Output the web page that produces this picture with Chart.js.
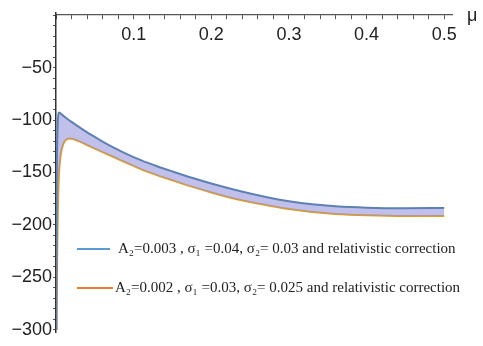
<!DOCTYPE html>
<html>
<head>
<meta charset="utf-8">
<script src="https://cdn.jsdelivr.net/npm/chart.js@4.4.0/dist/chart.umd.min.js"></script>
<style>
  html, body { margin: 0; padding: 0; background: #fff; overflow: hidden; }
  #grafico { display: block; }
</style>
</head>
<body>
<canvas id="grafico" width="483" height="346"></canvas>
<script>
// Blue curve: A2=0.003, s1=0.04, s2=0.03
const muBlue = [0.0004, 0.001, 0.002, 0.003, 0.0035, 0.01, 0.02, 0.03, 0.045, 0.06, 0.075, 0.09, 0.11, 0.13, 0.15, 0.175, 0.2, 0.225, 0.25, 0.275, 0.3, 0.33, 0.36, 0.4, 0.45, 0.5];
const valBlue = [-300, -160, -110, -95, -92.8, -96.3, -101.8, -106.8, -114, -120.5, -126.5, -132, -138.5, -144, -149, -155, -160.5, -165.5, -170, -174, -177.3, -180.3, -182.2, -183.5, -184, -183.8];

// Orange curve: A2=0.002, s1=0.03, s2=0.025
const muOrange = [0.0008, 0.0015, 0.003, 0.005, 0.008, 0.012, 0.017, 0.022, 0.03, 0.045, 0.06, 0.075, 0.09, 0.11, 0.13, 0.15, 0.175, 0.2, 0.225, 0.25, 0.275, 0.3, 0.33, 0.36, 0.4, 0.45, 0.5];
const valOrange = [-300, -230, -168, -140, -126, -119.5, -117.5, -118, -120.4, -125.5, -130.5, -135.5, -140.5, -147, -152.5, -157.5, -163.5, -169, -174, -178.2, -181.7, -184.8, -187.6, -189.5, -190.8, -191.5, -191.5];

const labelBlue = 'A₂=0.003 , σ₁ =0.04, σ₂= 0.03 and relativistic correction';
const labelOrange = 'A₂=0.002 , σ₁ =0.03, σ₂= 0.025 and relativistic correction';

// tick labels
const xLabels = [0.1, 0.2, 0.3, 0.4, 0.5];
const yLabels = [-50, -100, -150, -200, -250, -300];

const toPoints = (xs, ys) => xs.map((x, i) => ({ x: x, y: ys[i] }));

const axisColor = '#555';
const tickFont = { family: '"Liberation Sans", Arial, sans-serif', size: 18 };

// legend drawn inside the plot + the mu label
const legendPlugin = {
  id: 'legendInside',
  afterDraw(chart) {
    const ctx = chart.ctx;
    const area = chart.chartArea;
    const y0 = chart.scales.y.getPixelForValue(0);
    ctx.save();
    ctx.fillStyle = '#222';
    ctx.font = '18px "Liberation Sans", Arial, sans-serif';
    ctx.textBaseline = 'middle';
    ctx.fillText('μ', area.right + 15, y0 + 1);

    const items = [
      { text: labelBlue, color: '#5b9bd5', dy: 236, x0: 21, x1: 54, tx: 62 },
      { text: labelOrange, color: '#ed7d31', dy: 275, x0: 21, x1: 57, tx: 59 }
    ];
    ctx.font = '15px "Liberation Serif", "Times New Roman", serif';
    items.forEach(it => {
      const y = area.top + it.dy;
      ctx.strokeStyle = it.color;
      ctx.lineWidth = 2;
      ctx.beginPath();
      ctx.moveTo(area.left + it.x0, y);
      ctx.lineTo(area.left + it.x1, y);
      ctx.stroke();
      ctx.fillStyle = '#222';
      ctx.fillText(it.text, area.left + it.tx, y);
    });
    ctx.restore();
  }
};

const config = {
  type: 'line',
  data: {
    datasets: [{
      label: labelBlue,
      data: toPoints(muBlue, valBlue),
      borderColor: '#5e81b5',
      backgroundColor: 'rgba(150, 150, 220, 0.6)',
      borderWidth: 2,
      fill: '+1',
      cubicInterpolationMode: 'monotone'
    }, {
      label: labelOrange,
      data: toPoints(muOrange, valOrange),
      borderColor: '#e19c24',
      backgroundColor: 'rgba(0,0,0,0)',
      borderWidth: 2,
      fill: false,
      cubicInterpolationMode: 'monotone'
    }]
  },
  options: {
    responsive: false,
    animation: false,
    layout: { padding: { top: 13, right: 31, bottom: 14, left: 0 } },
    elements: { point: { radius: 0 } },
    plugins: { legend: { display: false }, tooltip: { enabled: false } },
    scales: {
      x: {
        type: 'linear',
        min: 0,
        max: 0.51,
        position: { y: 0 },
        afterFit: s => { s.height = 0; },
        afterBuildTicks: s => {
          const t = [];
          for (let i = 0; i <= 25; i++) t.push({ value: Math.round(i * 2) / 100 });
          s.ticks = t;
        },
        grid: { drawOnChartArea: false, drawTicks: true, tickLength: 4, tickColor: axisColor },
        border: { color: axisColor, width: 1.2 },
        ticks: {
          autoSkip: false,
          maxRotation: 0,
          padding: 5,
          color: '#222',
          font: tickFont,
          callback: v => xLabels.some(l => Math.abs(l - v) < 1e-6) ? v.toFixed(1) : ''
        }
      },
      y: {
        type: 'linear',
        min: -302,
        max: 2,
        position: 'left',
        afterFit: s => { s.width = 56; },
        afterBuildTicks: s => {
          const t = [];
          for (let v = -300; v <= 0; v += 10) t.push({ value: v });
          s.ticks = t;
        },
        grid: { drawOnChartArea: false, drawTicks: true, tickLength: 3, tickColor: axisColor },
        border: { color: '#333', width: 1.5 },
        ticks: {
          autoSkip: false,
          padding: 1,
          color: '#222',
          font: tickFont,
          callback: v => yLabels.includes(v) ? '−' + Math.abs(v) : ''
        }
      }
    }
  },
  plugins: [legendPlugin]
};

const myChart = new Chart(document.getElementById('grafico'), config);
</script>
</body>
</html>
